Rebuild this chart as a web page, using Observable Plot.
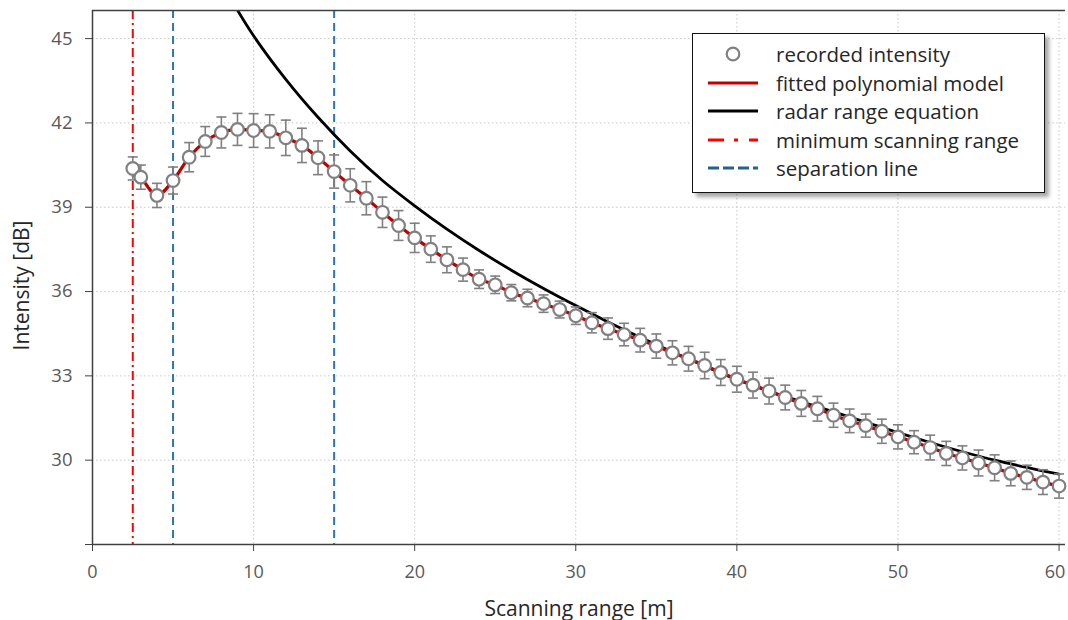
<!DOCTYPE html>
<html><head><meta charset="utf-8">
<script src="https://cdn.jsdelivr.net/npm/d3@7"></script>
<script src="https://cdn.jsdelivr.net/npm/@observablehq/plot@0.6"></script>
<style>
body{margin:0;background:#fff;font-family:"Open Sans","Noto Sans",sans-serif;}
#wrap{position:relative;width:1068px;height:620px;overflow:hidden}
#legend{position:absolute;left:692px;top:33px;width:351px;height:152px;border:1.5px solid #111;background:#fff;box-shadow:4px 4px 4px rgba(0,0,0,0.35);padding-top:6px;box-sizing:content-box}
.row{height:28.5px;display:flex;align-items:center;font-size:20.5px;color:#262626;white-space:nowrap}
.row svg{width:83px;height:28px;flex:none}
</style></head>
<body><div id="wrap"><div id="chart"></div>
<div id="legend"></div></div>
<script>
// ---- data ----
const rangeM = [2.5,3,4,5,6,7,8,9,10,11,12,13,14,15,16,17,18,19,20,21,22,23,24,25,26,27,28,29,30,31,32,33,34,35,36,37,38,39,40,41,42,43,44,45,46,47,48,49,50,51,52,53,54,55,56,57,58,59,60];
const intensity = [40.38,40.07,39.42,39.95,40.78,41.34,41.66,41.77,41.73,41.70,41.47,41.20,40.76,40.27,39.78,39.32,38.82,38.35,37.91,37.51,37.13,36.78,36.44,36.24,35.96,35.77,35.57,35.36,35.14,34.89,34.68,34.47,34.27,34.06,33.82,33.61,33.37,33.12,32.88,32.67,32.46,32.23,32.02,31.83,31.60,31.40,31.23,31.03,30.83,30.64,30.45,30.24,30.08,29.90,29.73,29.53,29.39,29.22,29.08];
const errorDb = [0.41,0.43,0.43,0.48,0.52,0.53,0.55,0.57,0.60,0.59,0.63,0.61,0.60,0.59,0.59,0.59,0.54,0.53,0.52,0.47,0.46,0.41,0.33,0.31,0.29,0.31,0.31,0.30,0.31,0.36,0.38,0.40,0.42,0.43,0.43,0.44,0.47,0.46,0.46,0.46,0.46,0.44,0.46,0.44,0.43,0.42,0.41,0.43,0.43,0.41,0.44,0.43,0.43,0.46,0.46,0.44,0.43,0.44,0.43];
const radarRange = [8.7,10,12,14,16,18,20,22,24,26,28,30,32,34,36,38,40,42,44,46,48,50,52,54,56,58,60];
const radarIntensity = [46.3,45.1,43.55,42.2,41.0,39.95,39.05,38.22,37.46,36.76,36.11,35.5,34.92,34.37,33.85,33.35,32.87,32.45,32.08,31.72,31.35,30.98,30.63,30.3,30.0,29.74,29.5];
const minScanRange = [2.5];
const separationLines = [5, 15];
const xTicks = [0,10,20,30,40,50,60];
const yTicks = [27,30,33,36,39,42,45];
const legendLabels = ["recorded intensity","fitted polynomial model","radar range equation","minimum scanning range","separation line"];

const measured = rangeM.map((r,i)=>({r, v:intensity[i], lo:intensity[i]-errorDb[i], hi:intensity[i]+errorDb[i]}));
const radar = radarRange.map((r,i)=>({r, v:radarIntensity[i]}));
const lastX = xTicks[xTicks.length-1];

const capSymbol = {draw(ctx, size){ const w = Math.sqrt(size/Math.PI); ctx.moveTo(-w,0); ctx.lineTo(w,0); }};
const axisColor = "#404040";
const gridStyle = {stroke:"#c8c8c8", strokeOpacity:1, strokeDasharray:"1.5,2.5", strokeWidth:1};
const xAxisStyle = {fontSize:18, color:"#595959", stroke:axisColor, label:null};

const chart = Plot.plot({
  width:1068, height:620,
  marginLeft:92, marginRight:3, marginTop:10, marginBottom:76,
  style:{fontFamily:'"Open Sans","Noto Sans",sans-serif', background:"#fff"},
  x:{domain:[0,60.4]},
  y:{domain:[27,46]},
  marks:[
    Plot.gridX(xTicks.filter(t=>t>0), gridStyle),
    Plot.gridY(yTicks.filter(t=>t>27), gridStyle),
    Plot.ruleX(minScanRange, {stroke:"#ff0000", strokeWidth:2, strokeDasharray:"9,4,2,4"}),
    Plot.ruleX(separationLines, {stroke:"#2e75b6", strokeWidth:2, strokeDasharray:"8,5"}),
    Plot.line(radar, {x:"r", y:"v", stroke:"#000", strokeWidth:2.8, curve:"catmull-rom", clip:true}),
    Plot.line(measured, {x:"r", y:"v", stroke:"#c00000", strokeWidth:3.2, curve:"catmull-rom"}),
    Plot.ruleX(measured, {x:"r", y1:"lo", y2:"hi", stroke:"#808080", strokeWidth:1.6}),
    Plot.dot(measured, {x:"r", y:"lo", symbol:capSymbol, r:5, stroke:"#808080", strokeWidth:1.6, fill:"none"}),
    Plot.dot(measured, {x:"r", y:"hi", symbol:capSymbol, r:5, stroke:"#808080", strokeWidth:1.6, fill:"none"}),
    Plot.dot(measured, {x:"r", y:"v", r:6.3, stroke:"#808080", strokeWidth:2.2, fill:"#fff"}),
    Plot.ruleY([46], {stroke:axisColor, strokeWidth:1.5}),
    Plot.axisX({...xAxisStyle, ticks:xTicks, tickSize:7, tickPadding:14, tickFormat:d=>d===lastX?"":String(d)}),
    Plot.axisX({...xAxisStyle, ticks:[lastX], tickSize:0, tickPadding:21, dx:-4}),
    Plot.axisY({ticks:yTicks, tickSize:7, tickPadding:13, fontSize:18.5, color:"#595959", stroke:axisColor, label:null, tickFormat:d=>d===27?"":String(d)}),
    Plot.ruleX([0], {stroke:axisColor, strokeWidth:1.5}),
    Plot.ruleY([27], {stroke:axisColor, strokeWidth:1.5}),
    Plot.text(["Scanning range [m]"], {frameAnchor:"bottom", textAnchor:"middle", dy:71, fontSize:21, fill:"#262626"}),
    Plot.text(["Intensity [dB]"], {frameAnchor:"left", textAnchor:"middle", dx:-70, dy:8, rotate:-90, fontSize:21, fill:"#262626"})
  ]
});
document.getElementById("chart").appendChild(chart);

// legend
const symbols = [
  '<circle cx="40" cy="14" r="6.3" fill="#fff" stroke="#808080" stroke-width="2.2"/>',
  '<line x1="15" x2="65" y1="14" y2="14" stroke="#c00000" stroke-width="3.2"/>',
  '<line x1="15" x2="65" y1="14" y2="14" stroke="#000" stroke-width="3.2"/>',
  '<line x1="15" x2="65" y1="14" y2="14" stroke="#ff0000" stroke-width="3" stroke-dasharray="16,10,4,11"/>',
  '<line x1="15" x2="65" y1="14" y2="14" stroke="#21638f" stroke-width="3" stroke-dasharray="11,4"/>'
];
const leg = document.getElementById("legend");
legendLabels.forEach((t,i)=>{
  const row = document.createElement("div"); row.className="row";
  row.innerHTML = '<svg viewBox="0 0 83 28">'+symbols[i]+'</svg>';
  const s = document.createElement("span"); s.textContent = t; row.appendChild(s);
  leg.appendChild(row);
});
</script>
</body></html>
